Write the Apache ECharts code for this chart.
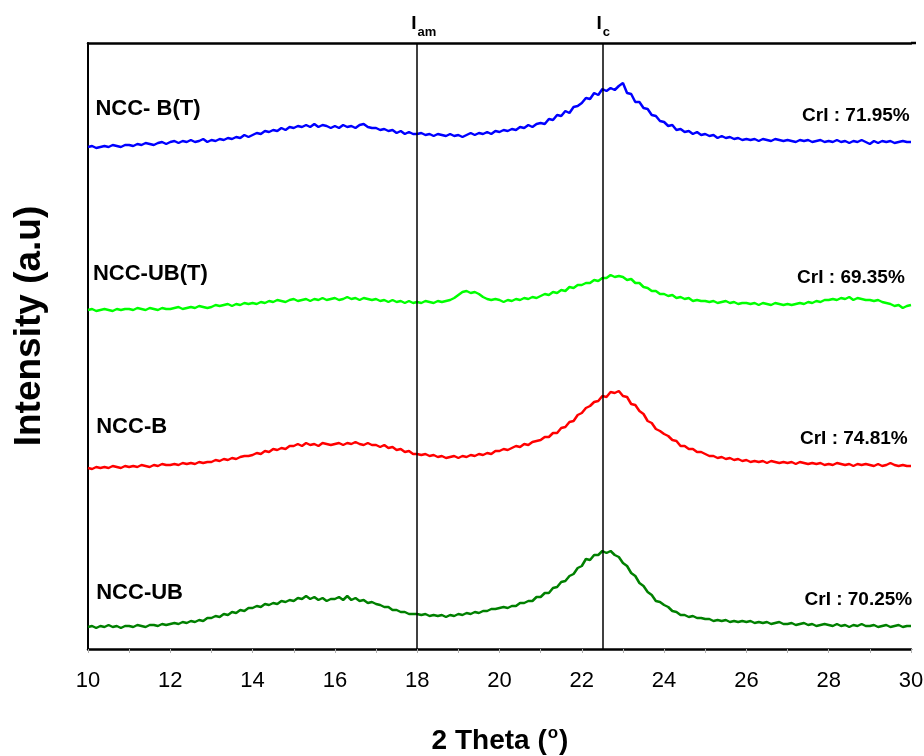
<!DOCTYPE html>
<html>
<head>
<meta charset="utf-8">
<script src="https://cdn.jsdelivr.net/npm/echarts@6/dist/echarts.min.js"></script>
<style>
  html, body { margin: 0; padding: 0; background: #fff; }
  #chart { width: 924px; height: 756px; }
</style>
</head>
<body>
<div id="chart"></div>
<script>
// XRD scans, 2θ from 10° to 30° in 0.1° steps; intensities in arbitrary units,
// each pattern already offset vertically so the four traces are stacked.
const thetaStart = 10;
const thetaStep = 0.1;

const sampleNames = ['NCC- B(T)', 'NCC-UB(T)', 'NCC-B', 'NCC-UB'];
const crystallinity = ['CrI : 71.95%', 'CrI : 69.35%', 'CrI : 74.81%', 'CrI : 70.25%'];
const xTicks = [10, 12, 14, 16, 18, 20, 22, 24, 26, 28, 30];
const referenceAngles = [18, 22.5];          // I_am and I_c positions

const nccBT = [
  502,503,501,502,503,502,504,503,502,504,
  504,503,505,504,506,505,504,506,507,505,
  507,508,506,508,507,509,507,508,510,507,
  509,508,510,509,511,510,512,511,514,512,
  514,516,515,518,517,519,518,521,519,522,
  521,523,522,524,522,525,522,524,523,521,
  523,521,524,522,523,521,524,525,522,521,
  521,519,520,518,519,516,518,515,517,515,
  515,516,514,515,513,515,514,513,515,513,
  514,512,514,516,514,516,515,517,515,518,
  517,519,518,520,519,522,521,524,522,525,
  526,525,530,529,534,533,538,536,542,543,
  546,551,550,556,554,560,558,561,559,563,
  566,556,555,547,547,541,540,534,533,528,
  527,523,524,519,520,517,518,515,517,514,
  515,513,514,511,513,511,512,510,511,509,
  510,509,510,508,510,509,508,510,509,508,
  509,508,507,509,508,509,507,508,509,507,
  508,507,509,507,508,506,508,507,509,507,
  505,508,506,508,507,508,506,507,508,507,
  507
];

const nccUBT = [
  339,340,338,339,340,339,338,340,339,340,
  340,339,341,340,339,341,340,339,341,340,
  340,341,342,340,341,342,341,343,342,341,
  342,344,343,344,345,343,345,344,346,345,
  346,345,347,346,348,347,349,348,347,349,
  350,348,349,350,348,350,349,351,349,350,
  351,349,350,352,350,351,349,351,350,349,
  350,348,349,347,349,347,348,346,348,346,
  347,346,348,347,346,348,347,348,349,351,
  354,357,358,356,357,355,352,350,349,350,
  349,347,349,348,350,349,351,350,352,351,
  353,355,354,357,356,359,358,362,361,364,
  364,366,366,369,368,371,371,374,372,373,
  372,369,370,366,366,362,361,358,358,355,
  355,353,354,351,352,350,351,348,349,348,
  348,347,348,346,347,348,346,347,345,346,
  346,345,346,344,346,345,344,346,345,344,
  345,344,345,346,345,347,346,348,347,349,
  349,350,349,351,350,352,349,351,350,349,
  349,348,349,347,346,345,343,344,341,343,
  344
];

const nccB = [
  181,180,182,181,182,181,183,182,181,183,
  182,183,182,184,183,182,184,183,185,184,
  184,185,184,186,185,186,185,187,186,187,
  187,189,188,190,189,191,190,192,193,193,
  194,196,195,198,197,200,199,201,200,203,
  203,205,203,206,204,205,203,206,205,204,
  205,206,204,206,205,207,205,204,206,204,
  204,202,204,201,202,199,200,197,198,195,
  195,194,195,193,194,192,193,191,192,193,
  191,193,192,194,193,195,194,196,195,198,
  198,200,199,201,203,202,205,204,207,208,
  209,212,212,216,216,221,222,227,228,234,
  236,241,243,247,248,253,252,257,256,258,
  253,252,245,244,238,235,228,226,220,218,
  215,213,209,208,203,203,200,200,197,197,
  195,193,193,191,192,190,191,189,190,188,
  189,187,188,187,188,186,188,187,186,187,
  186,187,185,187,186,185,186,185,186,184,
  185,184,186,185,184,185,183,185,184,185,
  184,183,185,183,184,186,184,183,184,183,
  183
];

const nccUB = [
  22,23,21,23,22,24,22,23,21,23,
  23,22,24,23,22,24,24,23,25,24,
  25,26,25,27,26,28,27,29,28,31,
  31,33,32,35,34,37,36,39,38,41,
  41,43,42,45,44,46,45,48,47,49,
  48,51,50,53,50,52,49,51,48,50,
  50,52,49,53,49,51,48,49,46,47,
  45,44,42,42,39,39,37,37,35,35,
  35,34,35,33,34,33,34,32,34,33,
  35,34,36,35,37,36,38,38,40,40,
  41,42,41,43,43,46,46,48,48,52,
  52,56,56,61,62,67,68,73,75,81,
  83,90,89,94,94,98,96,98,94,92,
  86,83,76,73,66,63,57,54,48,47,
  44,42,38,37,34,34,32,33,31,31,
  30,30,28,29,28,29,27,28,27,28,
  27,28,26,27,26,27,25,26,27,25,
  25,26,24,25,26,24,25,23,24,25,
  24,23,25,23,24,22,24,23,25,23,
  23,24,22,23,24,22,23,24,22,23,
  23
];

const seriesValues = [nccBT, nccUBT, nccB, nccUB];
const seriesColors = ['#0000ff', '#00ff00', '#ff0000', '#008000'];

// pair each intensity with its scan angle
function withAngles(values) {
  return values.map((v, i) => [+(thetaStart + i * thetaStep).toFixed(1), v]);
}

const chart = echarts.init(document.getElementById('chart'), null, { renderer: 'canvas' });

const fontFamily = 'Arial, "Liberation Sans", Helvetica, sans-serif';

const series = seriesValues.map((vals, k) => ({
  name: sampleNames[k],
  type: 'line',
  data: withAngles(vals),
  showSymbol: false,
  symbol: 'none',
  silent: true,
  lineStyle: { color: seriesColors[k], width: 2.5 },
  z: 3
}));

// vertical guides for the amorphous and crystalline reference angles
series.push({
  type: 'line',
  data: [],
  silent: true,
  markLine: {
    symbol: 'none',
    silent: true,
    label: { show: false },
    lineStyle: { color: '#000', width: 1.5, type: 'solid' },
    data: referenceAngles.map(a => ({ xAxis: a }))
  },
  z: 2
});

chart.setOption({
  animation: false,
  backgroundColor: '#fff',
  textStyle: { fontFamily },
  grid: { left: 88, right: 13, top: 43, bottom: 107, containLabel: false, outerBoundsMode: 'none' },
  xAxis: [{
    type: 'value',
    min: xTicks[0],
    max: xTicks[xTicks.length - 1],
    interval: 2,
    axisLine: { show: true, lineStyle: { color: '#000', width: 2.5 } },
    axisTick: { show: true, length: 4, lineStyle: { color: '#b0b0b0', width: 1 } },
    minorTick: { show: true, splitNumber: 2, length: 4, lineStyle: { color: '#b0b0b0', width: 1 } },
    splitLine: { show: false },
    axisLabel: { fontSize: 22, color: '#000', margin: 21, fontFamily }
  }, {
    type: 'value',
    position: 'top',
    min: xTicks[0],
    max: xTicks[xTicks.length - 1],
    axisLine: { show: true, lineStyle: { color: '#000', width: 2.5 } },
    axisTick: { show: false },
    axisLabel: { show: false },
    splitLine: { show: false }
  }],
  yAxis: {
    type: 'value',
    min: 0,
    max: 606,
    axisLine: { show: true, lineStyle: { color: '#000', width: 2 } },
    axisTick: { show: false },
    axisLabel: { show: false },
    splitLine: { show: false }
  },
  series
});

// text annotations, placed from data coordinates
const toPx = (x, y) => chart.convertToPixel({ gridIndex: 0 }, [x, y]);
const topY = toPx(10, 606)[1];

const nameAnchors = [[10.18, 540], [10.12, 375], [10.2, 222], [10.2, 56]];
const crAnchors = [[29.97, 533], [29.85, 371], [29.92, 210], [30.03, 49]];

const graphics = [];
sampleNames.forEach((name, k) => {
  const p = toPx(nameAnchors[k][0], nameAnchors[k][1]);
  graphics.push({
    type: 'text', x: p[0], y: p[1],
    style: { text: name, font: 'bold 22px ' + fontFamily, fill: '#000', textAlign: 'left', textVerticalAlign: 'middle' }
  });
  const q = toPx(crAnchors[k][0], crAnchors[k][1]);
  graphics.push({
    type: 'text', x: q[0], y: q[1],
    style: { text: crystallinity[k], font: 'bold 19px ' + fontFamily, fill: '#000', textAlign: 'right', textVerticalAlign: 'middle' }
  });
});

// I_am / I_c labels above the frame
const subs = ['am', 'c'];
referenceAngles.forEach((a, k) => {
  const p = toPx(a, 606);
  graphics.push({
    type: 'text', x: p[0] - 6, y: topY - 19,
    style: {
      text: '{i|I}{s|' + subs[k] + '}',
      fill: '#000',
      textAlign: 'left',
      textVerticalAlign: 'middle',
      rich: {
        i: { font: 'bold 19px ' + fontFamily, fill: '#000', verticalAlign: 'bottom' },
        s: { font: 'bold 13px ' + fontFamily, fill: '#000', verticalAlign: 'bottom', padding: [0, 0, -5, 1] }
      }
    }
  });
});

// frame top continues slightly past the plot edge
graphics.push({
  type: 'line', silent: true,
  shape: { x1: toPx(30, 606)[0], y1: topY, x2: toPx(30, 606)[0] + 5, y2: topY },
  style: { stroke: '#000', lineWidth: 2.5 }
});

// axis titles
graphics.push({
  type: 'text', x: 500, y: 741,
  style: {
    text: '2 Theta ({o|o})',
    font: 'bold 28px ' + fontFamily,
    fill: '#000',
    textAlign: 'center',
    textVerticalAlign: 'middle',
    rich: { o: { font: 'bold 17px ' + fontFamily, fill: '#000', padding: [0, 1, 15, 1] } }
  }
});
graphics.push({
  type: 'text', x: 30, y: 326, rotation: Math.PI / 2,
  style: {
    text: 'Intensity (a.u)',
    font: 'bold 37px ' + fontFamily,
    fill: '#000',
    textAlign: 'center',
    textVerticalAlign: 'middle'
  }
});

chart.setOption({ graphic: graphics });
</script>
</body>
</html>
